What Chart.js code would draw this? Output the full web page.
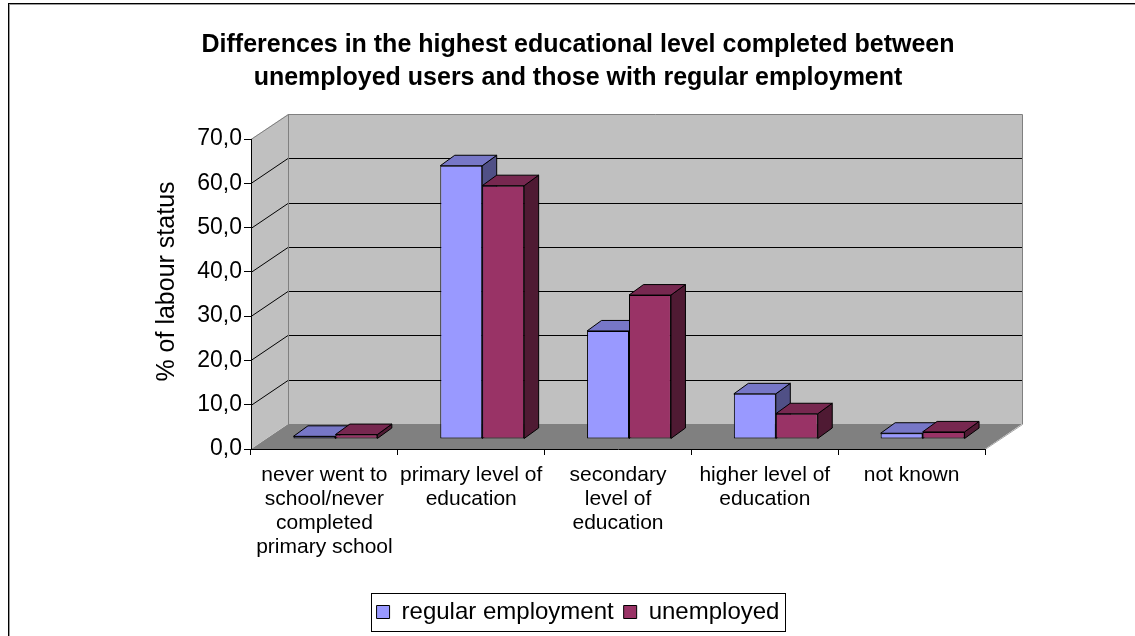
<!DOCTYPE html>
<html>
<head>
<meta charset="utf-8">
<script src="https://cdn.jsdelivr.net/npm/chart.js@4.4.1/dist/chart.umd.min.js"></script>
<style>
  html, body { margin: 0; padding: 0; background: #fff; }
  canvas { display: block; }
</style>
</head>
<body>
<canvas id="chart" width="1135" height="636"></canvas>
<script>
// ---- data ----
const categories = [
  ['never went to', 'school/never', 'completed', 'primary school'],
  ['primary level of', 'education'],
  ['secondary', 'level of', 'education'],
  ['higher level of', 'education'],
  ['not known']
];
const seriesNames = ['regular employment', 'unemployed'];
const regularEmployment = [0.6, 61.7, 24.4, 10.2, 1.3];
const unemployedUsers = [1.0, 57.2, 32.5, 5.7, 1.6];
const yTickLabels = ['0,0', '10,0', '20,0', '30,0', '40,0', '50,0', '60,0', '70,0'];
const chartTitle = [
  'Differences in the highest educational level completed between',
  'unemployed users and those with regular employment'
];
const yAxisTitle = '% of labour status';

// ---- styling ----
const FONT = "'Liberation Sans', Arial, sans-serif";
const WALL = { dx: 37, dy: -25 };        // depth of the walls / floor
const BAR_SHIFT = { dx: 11, dy: -10 };   // bars stand a little back from the front edge
const BAR_DEPTH = { dx: 14.5, dy: -10.5 };
const frontColours = ['#9999FF', '#993366'];
const faceColours = [
  { top: '#7777C7', side: '#505086' },
  { top: '#772850', side: '#4F1A33' }
];

function poly(ctx, pts) {
  ctx.beginPath();
  ctx.moveTo(pts[0][0], pts[0][1]);
  for (let i = 1; i < pts.length; i++) ctx.lineTo(pts[i][0], pts[i][1]);
  ctx.closePath();
}

// Walls, floor, 3D bar faces, axis title and legend frame
const excel3d = {
  id: 'excel3d',
  beforeDraw(chart) {
    const { ctx, chartArea: a, scales: { y } } = chart;
    const L = a.left, R = a.right, T = a.top, B = a.bottom;
    const dx = WALL.dx, dy = WALL.dy;
    ctx.save();
    ctx.fillStyle = '#fff';
    ctx.fillRect(0, 0, chart.width, chart.height);

    // outer frame of the chart object
    ctx.lineWidth = 1;
    ctx.strokeStyle = '#000';
    ctx.strokeRect(8.5, 3.5, chart.width + 40, chart.height + 40);
    ctx.strokeStyle = '#9a9a9a';
    ctx.strokeRect(9.5, 4.5, chart.width + 40, chart.height + 40);

    // floor
    ctx.fillStyle = '#808080';
    poly(ctx, [[L, B], [L + dx, B + dy], [R + dx, B + dy], [R, B]]);
    ctx.fill();
    // side wall
    ctx.fillStyle = '#c0c0c0';
    poly(ctx, [[L, T], [L + dx, T + dy], [L + dx, B + dy], [L, B]]);
    ctx.fill();
    // back wall
    ctx.fillRect(L + dx, T + dy, R - L, B - T);

    // gridlines across side wall and back wall
    ctx.strokeStyle = '#000';
    ctx.lineWidth = 1;
    y.ticks.forEach(t => {
      if (t.value <= y.min || t.value >= y.max) return;
      const py = Math.round(y.getPixelForValue(t.value)) + 0.5;
      ctx.beginPath();
      ctx.moveTo(L, py);
      ctx.lineTo(L + dx, py + dy);
      ctx.lineTo(R + dx, py + dy);
      ctx.stroke();
    });

    // wall outlines
    ctx.strokeStyle = '#808080';
    ctx.beginPath();
    ctx.moveTo(L, T + 0.5);
    ctx.lineTo(L + dx + 0.5, T + dy + 0.5);
    ctx.lineTo(R + dx + 0.5, T + dy + 0.5);
    ctx.lineTo(R + dx + 0.5, B + dy + 0.5);
    ctx.moveTo(L + dx + 0.5, T + dy);
    ctx.lineTo(L + dx + 0.5, B + dy);
    ctx.stroke();
    ctx.strokeStyle = '#a8a8a8';
    ctx.beginPath();
    ctx.moveTo(R, B + 0.5);
    ctx.lineTo(R + dx + 0.5, B + dy + 0.5);
    ctx.stroke();
    ctx.restore();
  },

  // bars painted left to right so neighbouring boxes overlap correctly
  beforeDatasetsDraw(chart) {
    const { ctx } = chart;
    const metas = chart.data.datasets.map((_, i) => chart.getDatasetMeta(i));
    const n = chart.data.labels.length;
    ctx.save();
    ctx.translate(BAR_SHIFT.dx, BAR_SHIFT.dy);
    ctx.lineJoin = 'miter';
    for (let i = 0; i < n; i++) {
      metas.forEach((meta, d) => {
        const el = meta.data[i];
        const { x, y, base, width } = el.getProps(['x', 'y', 'base', 'width'], true);
        const l = x - width / 2, r = x + width / 2;
        const ddx = BAR_DEPTH.dx, ddy = BAR_DEPTH.dy;
        ctx.lineWidth = 1;
        ctx.strokeStyle = '#000';
        ctx.fillStyle = faceColours[d].side;
        poly(ctx, [[r, y], [r + ddx, y + ddy], [r + ddx, base + ddy], [r, base]]);
        ctx.fill();
        ctx.stroke();
        ctx.fillStyle = faceColours[d].top;
        poly(ctx, [[l, y], [l + ddx, y + ddy], [r + ddx, y + ddy], [r, y]]);
        ctx.fill();
        ctx.stroke();
        el.draw(ctx, chart.chartArea);
      });
    }
    ctx.restore();
    return false;
  },

  afterDraw(chart) {
    const { ctx, chartArea: a, scales: { y } } = chart;
    // vertical axis title, centred on the wall height
    ctx.save();
    ctx.translate(y.left - 4, (a.top + WALL.dy + a.bottom) / 2);
    ctx.rotate(-Math.PI / 2);
    ctx.font = `25px ${FONT}`;
    ctx.fillStyle = '#000';
    ctx.textAlign = 'center';
    ctx.textBaseline = 'middle';
    ctx.fillText(yAxisTitle, 0, 0);
    ctx.restore();

    // legend frame
    const hb = chart.legend.legendHitBoxes;
    if (hb && hb.length) {
      const first = hb[0], last = hb[hb.length - 1];
      const x0 = Math.round(first.left - 6) + 0.5;
      const x1 = Math.round(last.left + last.width + 6) + 0.5;
      const y0 = Math.round(first.top - 7) + 0.5;
      const y1 = Math.round(first.top + first.height + 7) + 0.5;
      ctx.save();
      ctx.strokeStyle = '#000';
      ctx.lineWidth = 1;
      ctx.strokeRect(x0, y0, x1 - x0, y1 - y0);
      ctx.restore();
    }
  }
};

new Chart(document.getElementById('chart'), {
  type: 'bar',
  data: {
    labels: categories,
    datasets: [
      {
        label: seriesNames[0],
        data: regularEmployment,
        backgroundColor: frontColours[0],
        borderColor: '#000',
        borderWidth: 1,
        borderSkipped: false
      },
      {
        label: seriesNames[1],
        data: unemployedUsers,
        backgroundColor: frontColours[1],
        borderColor: '#000',
        borderWidth: 1,
        borderSkipped: false
      }
    ]
  },
  options: {
    responsive: false,
    animation: false,
    devicePixelRatio: 1,
    datasets: { bar: { categoryPercentage: 0.5714, barPercentage: 1.0 } },
    layout: { padding: { left: 171, right: 150, top: 0, bottom: 2 } },
    plugins: {
      title: {
        display: true,
        text: chartTitle,
        color: '#000',
        font: { family: FONT, size: 25, weight: 'bold', lineHeight: 1.32 },
        padding: { top: 28.5, bottom: 44.5 }
      },
      legend: {
        position: 'bottom',
        labels: {
          color: '#000',
          font: { family: FONT, size: 24 },
          boxWidth: 13,
          boxHeight: 13,
          padding: 10
        }
      },
      tooltip: { enabled: false }
    },
    scales: {
      x: {
        grid: { drawOnChartArea: false, color: '#000', tickLength: 6 },
        border: { color: '#000', width: 1 },
        ticks: {
          color: '#000',
          font: { family: FONT, size: 21, lineHeight: 1.14 },
          padding: 8,
          maxRotation: 0,
          autoSkip: false
        },
        afterFit(scale) { scale.height = 141; }
      },
      y: {
        min: 0,
        max: 70,
        ticks: {
          stepSize: 10,
          color: '#000',
          font: { family: FONT, size: 23 },
          padding: 2,
          callback: (value, index) => yTickLabels[index]
        },
        grid: { drawOnChartArea: false, color: '#000', tickLength: 7 },
        border: { color: '#000', width: 1 },
        afterFit(scale) { scale.width = 80; }
      }
    }
  },
  plugins: [excel3d]
});
</script>
</body>
</html>
